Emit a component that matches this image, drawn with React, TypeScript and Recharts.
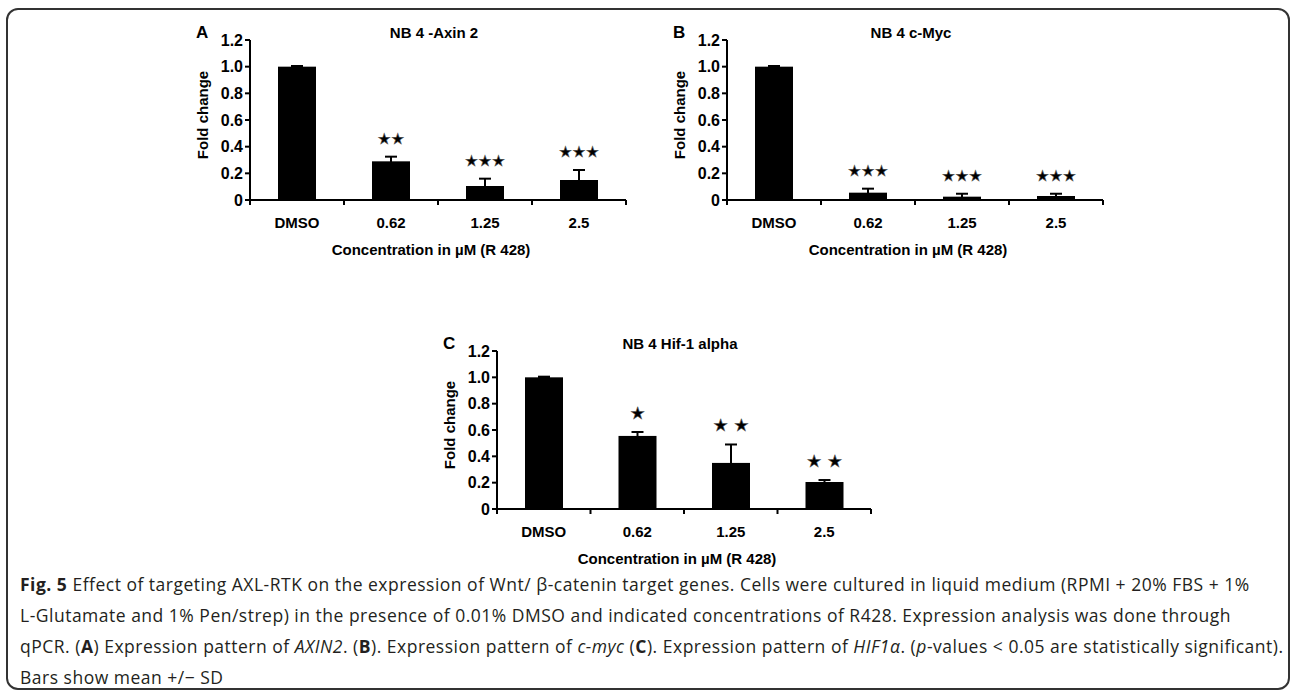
import { BarChart, Bar, XAxis, YAxis, ErrorBar } from "recharts";

const concentrations = ["DMSO", "0.62", "1.25", "2.5"];
const foldTicks = [0, 0.2, 0.4, 0.6, 0.8, 1.0, 1.2];

const axinFold = [1.0, 0.29, 0.105, 0.15];
const axinSd = [0.005, 0.035, 0.055, 0.075];
const axinStars = ["", "★★", "★★★", "★★★"];

const mycFold = [1.0, 0.055, 0.025, 0.03];
const mycSd = [0.005, 0.03, 0.022, 0.017];
const mycStars = ["", "★★★", "★★★", "★★★"];

const hifFold = [1.0, 0.555, 0.35, 0.205];
const hifSd = [0.005, 0.03, 0.14, 0.015];
const hifStars = ["", "★", "★ ★", "★ ★"];

const FONT = "'Liberation Sans', Arial, Helvetica, sans-serif";
const Y_AXIS_W = 100;
const M_TOP = 40;
const X_AXIS_H = 70;
const M_BOTTOM = 10;

interface PanelProps {
  letter: string;
  title: string;
  fold: number[];
  sd: number[];
  stars: string[];
  left: number;
  top: number;
  plotW: number;
  plotH: number;
  starSize: number;
}

function Panel({ letter, title, fold, sd, stars, left, top, plotW, plotH, starSize }: PanelProps) {
  const data = concentrations.map((c, i) => ({ name: c, fold: fold[i], sd: sd[i], stars: stars[i] }));
  const width = Y_AXIS_W + plotW + 4;
  const height = M_TOP + plotH + X_AXIS_H + M_BOTTOM;
  const halfBand = plotW / concentrations.length / 2;
  const plotLeft = left + Y_AXIS_W;
  const plotTop = top + M_TOP;

  const renderXTick = (props: any) => {
    const { x, y, index, payload } = props;
    const last = index === concentrations.length - 1;
    return (
      <g>
        <line x1={x - halfBand} x2={x - halfBand} y1={y} y2={y + 5} stroke="#000" strokeWidth={2} />
        {last && <line x1={x + halfBand} x2={x + halfBand} y1={y} y2={y + 5} stroke="#000" strokeWidth={2} />}
        <text x={x} y={y + 27.5} textAnchor="middle" fontFamily={FONT} fontWeight="bold" fontSize={15} fill="#000">
          {payload.value}
        </text>
      </g>
    );
  };

  // bar + significance stars sitting above the error bar
  const renderBar = (props: any) => {
    const { x, y, width: w, height: h, payload } = props;
    const pxPerUnit = payload.fold > 0 ? h / payload.fold : 0;
    const errTop = y - payload.sd * pxPerUnit;
    return (
      <g>
        <rect x={x} y={y} width={w} height={h} fill="#000" />
        {payload.stars && (
          <text x={x + w / 2} y={errTop - 13} textAnchor="middle" fontFamily="'DejaVu Sans', sans-serif" fontSize={starSize} fill="#000" stroke="#555" strokeWidth={0.5}>
            {payload.stars}
          </text>
        )}
      </g>
    );
  };

  return (
    <>
      <div
        style={{
          position: "absolute",
          left: plotLeft - 54,
          top: plotTop - 17,
          fontFamily: FONT,
          fontWeight: "bold",
          fontSize: 17,
          lineHeight: "20px",
        }}>
        {letter}
      </div>
      <div
        style={{
          position: "absolute",
          left: plotLeft - 4,
          width: plotW,
          top: plotTop - 16,
          textAlign: "center",
          fontFamily: FONT,
          fontWeight: "bold",
          fontSize: 15,
          lineHeight: "18px",
        }}>
        {title}
      </div>
      <div style={{ position: "absolute", left, top }}>
        <BarChart width={width} height={height} data={data} margin={{ top: M_TOP, right: 4, bottom: M_BOTTOM, left: 0 }} barSize={38}>
          <XAxis
            dataKey="name"
            height={X_AXIS_H}
            tickSize={0}
            tickMargin={0}
            tick={renderXTick}
            axisLine={{ stroke: "#000", strokeWidth: 2 }}
            interval={0}
            label={{
              content: (p: any) => {
                const vb = p.viewBox;
                return (
                  <text x={vb.x + vb.width / 2 - 7} y={vb.y + 55} textAnchor="middle" fontFamily={FONT} fontWeight="bold" fontSize={15} fill="#000">
                    Concentration in µM (R 428)
                  </text>
                );
              },
            }}
          />
          <YAxis
            width={Y_AXIS_W}
            domain={[0, 1.2]}
            ticks={foldTicks}
            tickFormatter={(v: number) => (v === 0 ? "0" : v.toFixed(1))}
            tickSize={5}
            tickMargin={2}
            tick={{ fontFamily: FONT, fontWeight: "bold", fontSize: 16, fill: "#000" }}
            tickLine={{ stroke: "#000", strokeWidth: 2 }}
            axisLine={{ stroke: "#000", strokeWidth: 2 }}
            label={{
              content: (p: any) => {
                const vb = p.viewBox;
                const cx = vb.x + vb.width - 48;
                const cy = M_TOP + plotH / 2 - 5;
                return (
                  <text x={cx} y={cy} transform={`rotate(-90 ${cx} ${cy})`} textAnchor="middle" dominantBaseline="central" fontFamily={FONT} fontWeight="bold" fontSize={15} fill="#000">
                    Fold change
                  </text>
                );
              },
            }}
          />
          <Bar dataKey="fold" fill="#000" isAnimationActive={false} shape={renderBar}>
            <ErrorBar dataKey="sd" width={6} stroke="#000" strokeWidth={2} direction="y" />
          </Bar>
        </BarChart>
      </div>
    </>
  );
}

export default function App() {
  return (
    <div style={{ position: "absolute", left: 0, top: 0, width: 1290, height: 691, background: "#fff", overflow: "hidden" }}>
      <div
        style={{
          position: "absolute",
          left: 6,
          top: 8,
          width: 1284,
          height: 682,
          border: "2px solid #333",
          borderRadius: 12,
          boxSizing: "border-box",
        }}
      />
      <Panel letter="A" title="NB 4 -Axin 2" fold={axinFold} sd={axinSd} stars={axinStars} left={150} top={0} plotW={376} plotH={160} starSize={15} />
      <Panel letter="B" title="NB 4 c-Myc" fold={mycFold} sd={mycSd} stars={mycStars} left={627} top={0} plotW={376} plotH={160} starSize={15} />
      <Panel letter="C" title="NB 4 Hif-1 alpha" fold={hifFold} sd={hifSd} stars={hifStars} left={397} top={311} plotW={374} plotH={158} starSize={17} />
      <div
        style={{
          position: "absolute",
          left: 20,
          top: 569,
          fontFamily: "'Open Sans', 'Noto Sans', sans-serif",
          fontSize: 17.5,
          letterSpacing: "0.5px",
          lineHeight: "31px",
          color: "#231f20",
          whiteSpace: "nowrap",
        }}>
        <b>Fig. 5</b> Effect of targeting AXL-RTK on the expression of Wnt/ β-catenin target genes. Cells were cultured in liquid medium (RPMI + 20% FBS + 1%
        <br />
        L-Glutamate and 1% Pen/strep) in the presence of 0.01% DMSO and indicated concentrations of R428. Expression analysis was done through
        <br />
        qPCR. (<b>A</b>) Expression pattern of <i>AXIN2</i>. (<b>B</b>). Expression pattern of <i>c-myc</i> (<b>C</b>). Expression pattern of <i>HIF1α</i>. (<i>p</i>-values &lt; 0.05 are statistically significant).
        <br />
        Bars show mean +/− SD
      </div>
    </div>
  );
}
